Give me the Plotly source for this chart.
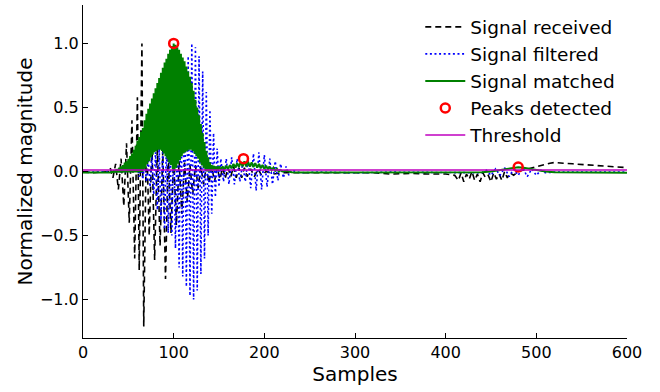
import plotly.graph_objects as go

# ---------------- data ----------------
recv_x = [0, 10, 20, 28, 30, 33, 36, 39, 42, 45, 48, 51, 54, 57, 60, 62, 65, 67, 70, 73, 76, 79, 82,
          85, 88, 91, 94, 97, 100, 103, 106, 109, 112, 115, 118, 121, 124, 127, 130, 133, 136, 139,
          142, 145, 148, 151, 154, 157, 160, 163, 166, 169, 172, 175, 178, 181, 185, 189, 193, 197,
          202, 210, 220,
          240, 260, 280, 300, 320, 340, 360, 380, 400, 410, 414, 417, 420, 423, 426, 429, 432, 435,
          438, 441, 444, 447, 450, 453, 456, 459, 462, 465, 468, 471, 475, 480, 485, 490, 495, 500,
          505, 510, 515, 520, 525, 530, 540, 550, 560, 570, 580, 590, 600]
recv_y = [-0.005, -0.01, -0.005, 0.0, 0.03, -0.05, 0.06, -0.14, 0.1, -0.27, 0.22, -0.4, 0.4, -0.68,
          0.58, -0.77, 1.0, -1.21, 0.32, -0.5, 0.22, -0.69, 0.2,
          -0.58, 0.16, -0.84, 0.15, -0.48, 0.12, -0.42, 0.08, -0.33, 0.07, -0.24, 0.05, -0.18, 0.05,
          -0.13, 0.04, -0.1, 0.04, -0.09,
          0.04, -0.08, 0.03, -0.06, 0.03, -0.05, 0.03, -0.04, 0.04, -0.05, 0.03, -0.05, 0.03, -0.04,
          0.02, -0.04, 0.02, -0.03,
          0.0, -0.02, -0.01,
          -0.01, -0.015, -0.01, -0.015, -0.01, -0.02, -0.015, -0.02, -0.02, -0.03, -0.07, -0.01,
          -0.08, -0.02, -0.06, 0.0, -0.07, -0.02,
          -0.08, -0.01, -0.05, -0.03, -0.08, -0.01, -0.06, -0.02, -0.07, 0.0, -0.05, -0.01, -0.03,
          0.0, 0.01, 0.02, 0.03, 0.04,
          0.05, 0.06, 0.065, 0.07, 0.07, 0.065, 0.06, 0.055, 0.055, 0.05, 0.045, 0.035, 0.03]

filt_x = [0, 40, 56, 60, 62, 64, 66, 68, 70, 72, 74, 76, 78, 80, 82, 84, 86, 88, 90, 92, 94, 96, 98,
          100, 102, 104, 106, 108, 110, 112, 114, 116, 118, 120, 122, 124, 126, 128, 130, 132, 134,
          136, 138, 140, 142, 144, 146, 148, 150, 152, 155, 158, 161, 164, 167, 170, 173, 176, 179,
          182, 185, 188, 191, 194, 197, 200, 203, 206, 209, 212, 215, 218, 221, 224, 227, 230, 240,
          260, 300, 340, 400, 440, 445, 450, 455, 460, 465, 470, 475, 480, 485, 490, 495, 500, 505,
          510, 520, 600]
filt_y = [-0.005, -0.005, 0.0, 0.03, -0.04, 0.05, -0.06, 0.07, -0.08, 0.1, -0.12, 0.12, -0.18, 0.15,
          -0.3, 0.18, -0.38, 0.2, -0.45, 0.22, -0.48, 0.25, -0.5,
          0.3, -0.6, 0.45, -0.75, 0.65, -0.82, 0.82, -0.9, 0.9, -0.97, 1.0, -1.0, 0.97, -0.93, 0.9,
          -0.8, 0.78, -0.68,
          0.62, -0.5, 0.48, -0.33, 0.3, -0.2, 0.18, -0.12, 0.1, -0.08, 0.1, -0.1, 0.11, -0.1, 0.1,
          -0.08, 0.06, -0.08,
          0.1, -0.13, 0.14, -0.15, 0.15, -0.14, 0.13, -0.12, 0.1, -0.1, 0.08, -0.07, 0.06, -0.05,
          0.04, -0.03, 0.01, -0.01,
          -0.005, -0.01, -0.005, -0.01, -0.01, 0.01, -0.03, 0.02, -0.03, 0.03, -0.04, 0.02, -0.03,
          0.03, -0.04, 0.02, -0.03, 0.01,
          -0.01, -0.005, -0.005]

match_x = [0, 30, 31, 32, 33, 34, 35, 36, 37, 38, 39, 40, 41, 42, 43, 44, 45, 46, 47, 48, 49, 50,
           51, 52, 53, 54, 55, 56, 57, 58, 59, 60, 61, 62, 63, 64, 65, 66, 67, 68, 69, 70, 71, 72,
           73, 74, 75, 76, 77, 78, 79, 80, 81, 82, 83, 84, 85, 86, 87, 88, 89, 90, 91, 92, 93, 94,
           95, 96, 97, 98, 99, 100, 101, 102, 103, 104, 105, 106, 107, 108, 109, 110, 111, 112, 113,
           114, 115, 116, 117, 118, 119, 120, 121, 122, 123, 124, 125, 126, 127, 128, 129, 130, 131,
           132, 133, 134, 135, 136, 137, 138, 139, 140, 141, 142, 143, 144, 145, 146, 147, 148, 149,
           150, 152, 154, 156, 158, 160, 162, 164, 166, 168, 170, 172, 174, 176, 178, 180, 182, 184,
           186, 188, 190, 192, 194, 196, 198, 200, 202, 204, 206, 208, 210, 212, 214, 216, 218, 220,
           224, 230, 240, 300, 400, 440, 450, 458, 466, 474, 480, 486, 494, 502, 510, 520, 600]
match_y = [-0.008, -0.008, -0.008, 0.005, -0.008, 0.008, -0.008, 0.012, -0.008, 0.02, -0.008, 0.03,
           -0.008, 0.04, -0.008, 0.05, -0.008, 0.07, -0.008, 0.08, -0.008, 0.10,
           -0.008, 0.12, -0.008, 0.14, -0.008, 0.17, -0.008, 0.20, -0.008, 0.24, -0.007, 0.27, -0.006,
           0.31, -0.004, 0.34, 0.01, 0.40, 0.03, 0.45, 0.06, 0.49,
           0.08, 0.53, 0.11, 0.57, 0.13, 0.61, 0.15, 0.65, 0.16, 0.69, 0.17, 0.73, 0.17, 0.77, 0.16,
           0.81, 0.14, 0.85, 0.12, 0.88, 0.10, 0.92,
           0.07, 0.95, 0.05, 0.98, 0.02, 1.00, 0.00, 0.99, 0.03, 0.97, 0.06, 0.95, 0.09, 0.92, 0.12,
           0.89, 0.14, 0.86, 0.15,
           0.82, 0.16, 0.78, 0.17, 0.74, 0.17, 0.69, 0.16, 0.63, 0.14, 0.56, 0.12, 0.50, 0.10, 0.44,
           0.07, 0.37, 0.05,
           0.30, 0.03, 0.23, 0.01, 0.16, 0.0, 0.11, 0.0, 0.07, 0.005, 0.05, 0.01, 0.045, 0.01, 0.04,
           0.01, 0.04, 0.01,
           0.04, 0.015, 0.04, 0.015, 0.045, 0.02, 0.05, 0.025, 0.06, 0.03, 0.065, 0.035, 0.075, 0.04,
           0.08, 0.04, 0.078, 0.038,
           0.072, 0.035, 0.066, 0.03, 0.06, 0.025, 0.052, 0.02, 0.045, 0.015, 0.038, 0.01, 0.03,
           0.005, 0.02, 0.0, 0.012, 0.0,
           0.005, -0.005, -0.008, -0.008, -0.008, -0.006, 0.0, 0.01, 0.02, 0.03, 0.034, 0.03, 0.02,
           0.01, 0.0, -0.005, -0.01]

peak_x = [100, 177, 480]
peak_y = [1.0, 0.10, 0.035]

thresh_x = [0, 600]
thresh_y = [0.012, 0.012]

x_ticks = [0, 100, 200, 300, 400, 500, 600]
y_ticks = [-1.0, -0.5, 0.0, 0.5, 1.0]
y_tick_text = ["\u22121.0", "\u22120.5", "0.0", "0.5", "1.0"]

# ---------------- figure ----------------
fig = go.Figure()
fig.add_trace(go.Scatter(x=recv_x, y=recv_y, mode="lines", name="Signal received",
                         line=dict(color="black", width=1.6, dash="6px,4px")))
fig.add_trace(go.Scatter(x=filt_x, y=filt_y, mode="lines", name="Signal filtered",
                         line=dict(color="#0000ff", width=1.6, dash="2px,2.6px")))
fig.add_trace(go.Scatter(x=match_x, y=match_y, mode="lines", name="Signal matched",
                         line=dict(color="#008000", width=2)))
fig.add_trace(go.Scatter(x=peak_x, y=peak_y, mode="markers", name="Peaks detected",
                         marker=dict(symbol="circle-open", size=9, color="#ff0000",
                                     line=dict(width=2.5, color="#ff0000"))))
fig.add_trace(go.Scatter(x=thresh_x, y=thresh_y, mode="lines", name="Threshold",
                         line=dict(color="#bf00bf", width=1.5)))

axis_common = dict(showgrid=False, zeroline=False, showline=True, linecolor="black",
                   linewidth=1, ticks="inside", ticklen=5, tickcolor="black",
                   tickfont=dict(size=16, color="black"), mirror=False)

fig.update_xaxes(range=[0, 600], tickvals=x_ticks,
                 title=dict(text="Samples", font=dict(size=20), standoff=4), **axis_common)
fig.update_yaxes(range=[-1.3, 1.3], tickvals=y_ticks, ticktext=y_tick_text,
                 title=dict(text="Normalized magnitude", font=dict(size=20), standoff=1), **axis_common)

fig.update_layout(
    width=660, height=392,
    margin=dict(l=83, r=33, t=5, b=54),
    paper_bgcolor="white", plot_bgcolor="white",
    font=dict(family="DejaVu Sans", color="black"),
    legend=dict(x=0.62, y=0.99, xanchor="left", yanchor="top", bgcolor="rgba(0,0,0,0)",
                font=dict(size=18.5), tracegroupgap=0, itemwidth=40),
    showlegend=True,
)

fig.write_html("out.html", config={"displayModeBar": False},
               post_script="document.body.style.margin='0px';")
